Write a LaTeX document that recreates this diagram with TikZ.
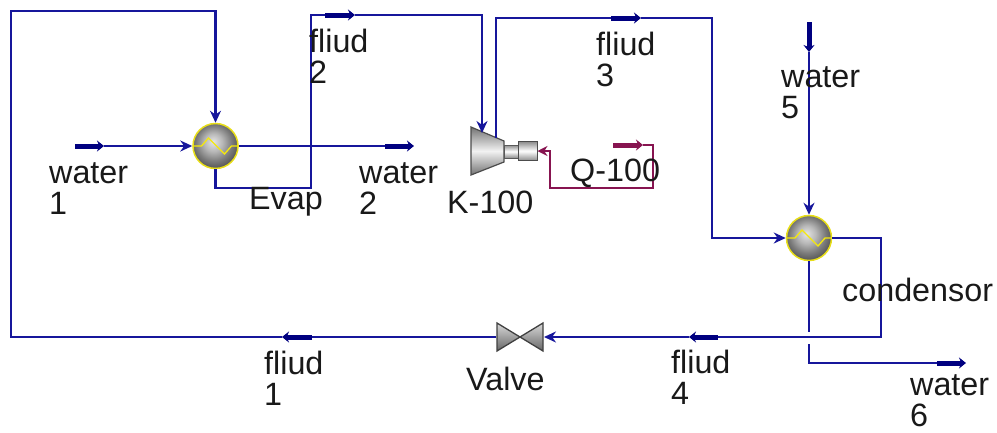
\documentclass[tikz,border=0pt]{standalone}
\usepackage{fontspec}
\setmainfont{Liberation Sans}
\usetikzlibrary{arrows.meta,calc}
\definecolor{strm}{RGB}{22,22,155}
\definecolor{nstrm}{RGB}{0,0,128}
\definecolor{enrg}{RGB}{135,20,80}
\definecolor{txt}{RGB}{25,25,25}
\pgfdeclareradialshading{hxball}{\pgfpoint{-3bp}{5bp}}{
  rgb(0bp)=(0.90,0.90,0.90);
  rgb(10bp)=(0.72,0.72,0.72);
  rgb(20bp)=(0.48,0.48,0.48);
  rgb(30bp)=(0.28,0.28,0.28);
  rgb(50bp)=(0.22,0.22,0.22)}
\tikzset{
  x=1pt,y=-1pt,
  pipe/.style={draw=strm,line width=2.5pt,line join=miter},
  feed/.style={pipe,-{Stealth[length=12pt,width=11pt]}},
  stub/.style={draw=nstrm,line width=5pt,-{Stealth[length=7pt,width=11pt]}},
  epipe/.style={draw=enrg,line width=2.4pt,-{Stealth[length=10pt,width=10pt]}},
  estub/.style={draw=enrg,line width=5pt,-{Stealth[length=7pt,width=11pt]}},
  lbl/.style={font=\fontsize{32.3}{31}\selectfont,text=txt,align=left,anchor=north west,inner sep=0pt},
  hx/.style={circle,minimum size=45pt,inner sep=0pt,draw=yellow!90!black,line width=1.5pt,shading=hxball},
  wave/.style={draw=yellow!95!black,line width=1.3pt}
}
\newcommand{\hxwave}[1]{\draw[wave] ($(#1)+(-22,0)$) -- ++(8,0) -- ++(7,-8) -- ++(16,16) -- ++(7,-8) -- ++(14,0);}
\begin{document}
\begin{tikzpicture}
\useasboundingbox (0,0) rectangle (997,432);
% equipment
\node[hx] (evap) at (215.5,146) {};
\node[hx] (cond) at (809,238) {};
% compressor
\path[draw=black!70,line width=1.2pt,top color=black!55,bottom color=black!55,middle color=black!5]
  (471,127) -- (504,141) -- (504,162) -- (471,175) -- cycle;
\node[draw=black!65,line width=1pt,minimum width=14pt,minimum height=13pt,inner sep=0pt,top color=black!45,bottom color=black!45,middle color=white] (shaft) at (511,151.5) {};
\node[draw=black!70,line width=1pt,minimum width=19pt,minimum height=19pt,inner sep=0pt,top color=black!45,bottom color=black!45,middle color=white] (motor) at (527.5,151) {};
% valve
\path[draw=black!75,line width=1.3pt,top color=black!15,bottom color=black!60]
  (497,323) -- (543,351) -- (543,323) -- (497,351) -- cycle;
\coordinate (vr) at (544,337);
\coordinate (vl) at (496,337);
\hxwave{evap}
\hxwave{cond}
% free ends
\coordinate (w1s) at (75,146);
\coordinate (w1e) at (104,146);
\coordinate (w2s) at (385,146);
\coordinate (w2e) at (414,146);
\coordinate (f2s) at (325,15);
\coordinate (f2e) at (355,15);
\coordinate (f3s) at (611,18);
\coordinate (f3e) at (641,18);
\coordinate (w5s) at (809,22);
\coordinate (w5e) at (809,52);
\coordinate (f4s) at (718,337);
\coordinate (f4e) at (689,337);
\coordinate (f1s) at (312,337);
\coordinate (f1e) at (282,337);
\coordinate (w6s) at (937,363);
\coordinate (w6e) at (966,363);
\coordinate (qs) at (613,145);
\coordinate (qe) at (643,145);
% streams
\draw[feed] (w1e) -- (evap.west);
\draw[pipe] (evap.east) -- (w2s);
\draw[pipe] (evap.south) |- (311,188) -- (311,15) -- (f2s);
\draw[feed] (f2e) -- (482,15) -- (482,133);
\draw[pipe] (496,138) -- (496,18) -- (f3s);
\draw[feed] (f3e) -- (712,18) -- (712,238) -- (cond.west);
\draw[feed] (w5e) -- (cond.north);
\draw[pipe] (cond.east) -- (881,238) -- (881,337) -- (f4s);
\draw[feed] (f4e) -- (vr);
\draw[pipe] (vl) -- (f1s);
\draw[feed] (f1e) -- (11,337) -- (11,11) -- (215.5,11) -- (evap.north);
\draw[pipe] (cond.south) -- (809,332);
\draw[pipe] (809,344) -- (809,363) -- (w6s);
% energy
\draw[epipe] (qe) -- (653,145) -- (653,188) -- (550,188) -- (550,151) -- (motor.east);
% stream stubs
\foreach \a/\b in {w1s/w1e,w2s/w2e,f2s/f2e,f3s/f3e,w5s/w5e,f4s/f4e,f1s/f1e,w6s/w6e}
  \draw[stub] (\a) -- (\b);
\draw[estub] (qs) -- (qe);
% labels
\node[lbl] (lw1) at (49,162) {water\\1};
\node[lbl] (lw2) at (359,162) {water\\2};
\node[lbl] (lf2) at (309,29) {fliud\\2};
\node[lbl] (lf3) at (596,32) {fliud\\3};
\node[lbl] (lw5) at (781,66) {water\\5};
\node[lbl] (lf4) at (671,350) {fliud\\4};
\node[lbl] (lf1) at (264,351) {fliud\\1};
\node[lbl] (lw6) at (910,374) {water\\6};
\node[lbl] (levap) at (249,187) {Evap};
\node[lbl] (lk) at (447,191) {K-100};
\node[lbl] (lq) at (570,159) {Q-100};
\node[lbl] (lc) at (842,278) {condensor};
\node[lbl] (lv) at (466,367) {Valve};
\end{tikzpicture}
\end{document}
